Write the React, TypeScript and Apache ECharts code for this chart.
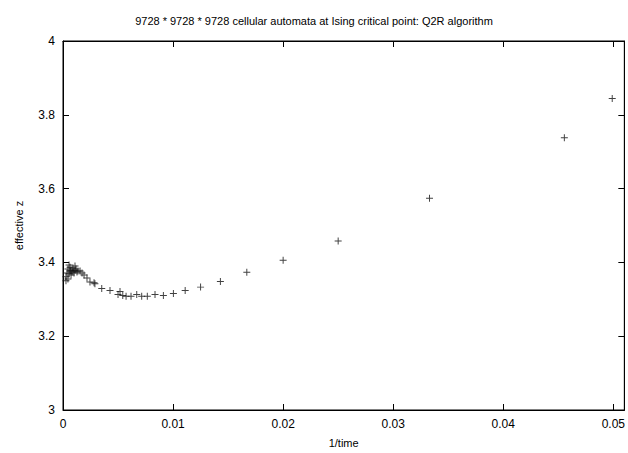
import React, { useEffect, useRef } from "react";
import * as echarts from "echarts";

const titleText = "9728 * 9728 * 9728 cellular automata at Ising critical point: Q2R algorithm";
const xName = "1/time";
const yName = "effective z";

// 1/time values
const inverseTime = [
  0.00027, 0.00027, 0.00036, 0.00045, 0.00045, 0.00055, 0.00055, 0.00064, 0.00064, 0.00073,
  0.00073, 0.00082, 0.00091, 0.00091, 0.001, 0.00109, 0.00109, 0.00118, 0.00127, 0.00136,
  0.00155, 0.00173, 0.00191, 0.00218, 0.00245, 0.00282, 0.0029, 0.00352, 0.00427, 0.00518,
  0.005, 0.00543, 0.00573, 0.00618, 0.0067, 0.00715, 0.00766, 0.00836, 0.00912, 0.01003,
  0.0111, 0.0125, 0.0143, 0.0167, 0.02, 0.025, 0.0333, 0.04555, 0.0499,
];
// effective z values
const effectiveZ = [
  3.35, 3.361, 3.371, 3.382, 3.355, 3.393, 3.369, 3.377, 3.387, 3.366,
  3.379, 3.374, 3.385, 3.377, 3.371, 3.39, 3.379, 3.382, 3.374, 3.377,
  3.377, 3.371, 3.366, 3.358, 3.347, 3.345, 3.342, 3.329, 3.324, 3.321,
  3.313, 3.31, 3.308, 3.308, 3.313, 3.308, 3.308, 3.313, 3.31, 3.316,
  3.324, 3.333, 3.348, 3.373, 3.406, 3.458, 3.574, 3.738, 3.844,
];

const FONT = "'Liberation Sans', Arial, Helvetica, sans-serif";
const PLUS = "path://M0,4.3H10V5.7H0Z M4.3,0H5.7V10H4.3Z";

export default function App() {
  const ref = useRef<HTMLDivElement>(null);
  useEffect(() => {
    document.body.style.margin = "0";
    if (!ref.current) return;
    const chart = echarts.init(ref.current, undefined, { renderer: "svg" });
    const lineCommon = { show: true, onZero: false, lineStyle: { color: "#000", width: 1 } };
    const tickCommon = { show: true, inside: true, length: 6, lineStyle: { color: "#000", width: 1 } };
    const points = inverseTime.map((x, i) => [x, effectiveZ[i]]);
    chart.setOption({
      animation: false,
      backgroundColor: "#fff",
      title: {
        text: titleText,
        left: "center",
        top: 10,
        textStyle: { fontFamily: FONT, fontSize: 11, fontWeight: "normal", color: "#000" },
      },
      grid: {
        left: 63,
        right: 3,
        top: 41,
        bottom: 35,
        show: true,
        borderColor: "#000",
        borderWidth: 1,
        backgroundColor: "transparent",
      },
      xAxis: [
        {
          type: "value",
          gridIndex: 0,
          min: 0,
          max: 0.051,
          interval: 0.01,
          position: "bottom",
          name: xName,
          nameLocation: "middle",
          nameGap: 27,
          nameTextStyle: { fontFamily: FONT, fontSize: 11, color: "#000" },
          axisLabel: {
            fontFamily: FONT,
            fontSize: 12,
            color: "#000",
            margin: 8,
            showMaxLabel: false,
          },
          axisLine: lineCommon,
          axisTick: tickCommon,
          splitLine: { show: false },
        },
        {
          type: "value",
          gridIndex: 0,
          min: 0,
          max: 0.051,
          interval: 0.01,
          position: "top",
          show: true,
          axisLabel: { show: false },
          axisLine: lineCommon,
          axisTick: tickCommon,
          splitLine: { show: false },
        },
      ],
      yAxis: [
        {
          type: "value",
          gridIndex: 0,
          min: 3,
          max: 4,
          interval: 0.2,
          position: "left",
          name: yName,
          nameLocation: "middle",
          nameGap: 39,
          nameTextStyle: { fontFamily: FONT, fontSize: 11, color: "#000" },
          axisLabel: { fontFamily: FONT, fontSize: 12, color: "#000", margin: 8 },
          axisLine: lineCommon,
          axisTick: tickCommon,
          splitLine: { show: false },
        },
        {
          type: "value",
          gridIndex: 0,
          min: 3,
          max: 4,
          interval: 0.2,
          position: "right",
          show: true,
          axisLabel: { show: false },
          axisLine: lineCommon,
          axisTick: tickCommon,
          splitLine: { show: false },
        },
      ],
      series: [
        {
          type: "scatter",
          xAxisIndex: 0,
          yAxisIndex: 0,
          symbol: PLUS,
          symbolSize: 7,
          itemStyle: { color: "#111" },
          data: points,
        },
        {
          type: "scatter",
          xAxisIndex: 1,
          yAxisIndex: 1,
          symbolSize: 0,
          silent: true,
          itemStyle: { opacity: 0 },
          data: points,
        },
      ],
    });
    return () => chart.dispose();
  }, []);
  return <div ref={ref} style={{ width: 628, height: 453 }} />;
}
